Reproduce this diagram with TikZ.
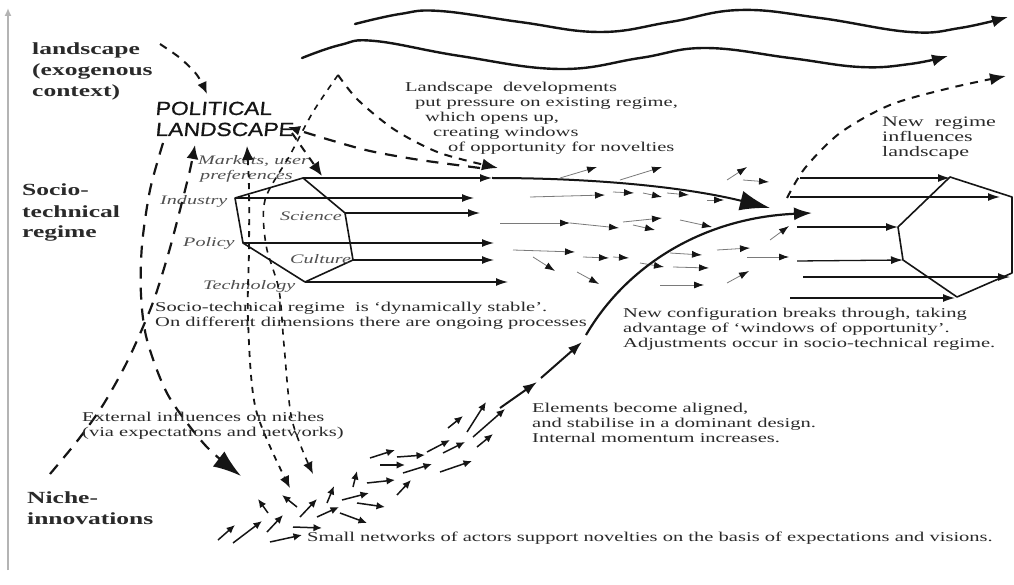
\documentclass[tikz,border=0pt]{standalone}
\usepackage{fontspec}
\setmainfont{Liberation Serif}
\newfontfamily\bodyf[FakeStretch=1.52]{Liberation Serif}
\newfontfamily\levf[FakeStretch=1.5]{Liberation Serif}
\newfontfamily\dimf[FakeStretch=1.55]{Liberation Serif}
\newfontfamily\handf[FakeSlant=0.1,FakeStretch=1.2,FakeBold=0.8]{Liberation Sans}
\usetikzlibrary{arrows.meta}
\definecolor{ink}{HTML}{151515}
\definecolor{txt}{HTML}{2A2A2A}
\definecolor{lbl}{HTML}{505050}
\definecolor{axisg}{HTML}{B4B4B4}
\definecolor{faint}{HTML}{7A7A7A}
\tikzset{
  axisline/.style={axisg, line width=1.6pt, -{Latex[length=8pt,width=7pt]}},
  wave/.style={ink, line width=2.4pt, line cap=round, -{Latex[length=16pt,width=12pt]}},
  hexedge/.style={ink, line width=1.6pt, line join=round},
  dimarrow/.style={ink, line width=1.3pt, -{Latex[length=12pt,width=8pt]}},
  fieldarrow/.style={faint, line width=0.8pt, -{Latex[length=10pt,width=7pt,color=ink]}},
  nichearrow/.style={ink, line width=1.5pt, -{Latex[length=8.5pt,width=7.5pt]}},
  chain/.style={ink, line width=2pt, -{Latex[length=14pt,width=10pt]}},
  longdash/.style={ink, line width=2.2pt, dash pattern=on 12pt off 9pt},
  middash/.style={ink, line width=2pt, dash pattern=on 8pt off 7pt},
  shortdash/.style={ink, line width=1.6pt, dash pattern=on 6pt off 6pt},
  levellabel/.style={font=\levf\bfseries\fontsize{17}{21}\selectfont, txt, align=left, inner sep=0pt, anchor=base west},
  bodytext/.style={font=\bodyf\fontsize{13.5}{15}\selectfont, txt, align=left, inner sep=0pt, anchor=base west},
  dimlabel/.style={font=\dimf\itshape\fontsize{13}{15}\selectfont, lbl, align=left, inner sep=0pt, anchor=base west},
  handlabel/.style={font=\handf\fontsize{19}{21}\selectfont, ink, align=left, inner sep=0pt, anchor=base west},
}
\begin{document}
\begin{tikzpicture}[x=1pt,y=-1pt]
\useasboundingbox (0,0) rectangle (1014,585);
\fill[white] (0,0) rectangle (1014,585);

% vertical axis
\coordinate (axb) at (8,570);
\coordinate (axt) at (8,8);
\draw[axisline] (axb) -- (axt);

% level labels (anchor = baseline of last line)
\node[levellabel] (land) at (32,97) {landscape\\(exogenous\\context)};
\node[levellabel] (regime) at (22,238) {Socio-\\technical\\regime};
\node[levellabel] (niche) at (27,524) {Niche-\\innovations};
\node[handlabel] (pol) at (155,136) {POLITICAL\\LANDSCAPE};

% landscape waves
\draw[wave] plot[smooth, tension=0.7] coordinates {(355,24) (400,14) (440,11) (520,22) (600,32) (670,22) (740,10) (820,18) (910,32) (960,28) (1008,17)};
\draw[wave] plot[smooth, tension=0.7] coordinates {(302,58) (340,45) (375,41) (460,56) (560,69) (640,58) (705,48) (790,58) (860,67) (910,64) (948,56)};

% new regime influences landscape
\draw[middash, -{Latex[length=16pt,width=12pt]}] plot[smooth] coordinates {(787,198) (805,168) (840,133) (890,105) (950,88) (1006,76)};

% left hexagon (existing regime)
\coordinate (h1) at (303,178);
\coordinate (h2) at (345,213);
\coordinate (h3) at (353,260);
\coordinate (h4) at (305,282);
\coordinate (h5) at (243,243);
\coordinate (h6) at (235,198);
\draw[hexedge] (h1) -- (h2) -- (h3) -- (h4) -- (h5) -- (h6) -- cycle;
\coordinate (t1) at (492,178);
\coordinate (t6) at (474,198);
\coordinate (t2) at (480,213);
\coordinate (t5) at (494,243);
\coordinate (t3) at (494,260);
\coordinate (t4) at (508,282);
\draw[dimarrow] (h1) -- (t1);
\draw[dimarrow] (h6) -- (t6);
\draw[dimarrow] (h2) -- (t2);
\draw[dimarrow] (h5) -- (t5);
\draw[dimarrow] (h3) -- (t3);
\draw[dimarrow] (h4) -- (t4);

% pressure curve into big arrowhead
\coordinate (press) at (770,208);
\draw[ink, line width=2pt, -{Latex[length=30pt,width=20pt]}] (t1) .. controls (600,178) and (690,188) .. (press);

% dimension labels
\node[dimlabel] (mkt) at (198,180) {Markets, user\\\hspace*{2pt}preferences};
\node[dimlabel] (ind) at (160,205) {Industry};
\node[dimlabel] (sci) at (280,221) {Science};
\node[dimlabel] (polc) at (183,247) {Policy};
\node[dimlabel] (cul) at (290,263) {Culture};
\node[dimlabel] (tec) at (203,289) {Technology};

% right hexagon (new regime)
\coordinate (r1) at (950,177);
\coordinate (r2) at (1012,197);
\coordinate (r3) at (1012,273);
\coordinate (r4) at (957,297);
\coordinate (r5) at (903,260);
\coordinate (r6) at (898,227);
\draw[hexedge] (r1) -- (r2) -- (r3) -- (r4) -- (r5) -- (r6) -- cycle;
\coordinate (s1) at (800,178);
\coordinate (s2) at (790,197);
\coordinate (s3) at (797,227);
\coordinate (s4) at (797,261);
\coordinate (s5) at (803,277);
\coordinate (s6) at (790,298);
\draw[dimarrow] (s1) -- (950,178);
\draw[dimarrow] (s2) -- (1000,197);
\draw[dimarrow] (s3) -- (r6);
\draw[dimarrow] (s4) -- (r5);
\draw[dimarrow] (s5) -- (1010,277);
\draw[dimarrow] (s6) -- (955,298);

% middle field of small arrows
\foreach \xa/\ya/\xb/\yb in {560/178/597/167, 620/180/662/167, 530/197/605/195, 613/192/634/193,
  643/193/662/197, 667/193/689/195, 707/200/724/200, 727/180/747/167, 743/180/769/182,
  500/223/570/223, 570/223/619/228, 623/222/662/218, 633/225/655/230, 680/220/712/227,
  513/250/575/252, 583/257/609/258, 613/257/629/258, 533/257/555/271, 577/272/599/284,
  670/253/702/255, 673/267/709/268, 660/285/704/285, 717/250/750/248, 727/283/749/271,
  747/257/789/257, 770/240/789/226, 640/263/664/267}
  \draw[fieldarrow] (\xa,\ya) -- (\xb,\yb);

% niche swarm of small arrows
\foreach \xa/\ya/\xb/\yb in {218/540/235/525, 233/543/262/521, 267/532/283/515, 270/542/302/535,
  293/527/322/528, 268/513/258/499, 297/507/282/495, 300/517/317/499, 317/517/339/507,
  327/503/334/486, 340/513/367/523, 342/500/369/493, 357/503/385/507, 353/487/357/471,
  367/483/395/480, 397/495/411/480, 370/458/395/450, 380/465/405/465, 397/457/425/455,
  403/473/432/464, 427/452/450/440, 443/453/465/442, 440/472/472/461, 448/428/463/416,
  467/432/486/402, 473/437/505/409, 477/447/493/434}
  \draw[nichearrow] (\xa,\ya) -- (\xb,\yb);

% main niche trajectory
\coordinate (c0) at (500,408);
\coordinate (c1) at (537,382);
\coordinate (c2) at (541,378);
\coordinate (c3) at (582,342);
\coordinate (c4) at (586,335);
\coordinate (brk) at (812,213);
\draw[chain] (c0) -- (c1);
\draw[chain] (c2) -- (c3);
\draw[ink, line width=2.2pt, -{Latex[length=18pt,width=13pt]}] (c4) .. controls (625,268) and (700,218) .. (brk);

% dashed influence lines
\coordinate (apex) at (338,75);
\draw[longdash, -{Latex[length=28pt,width=19pt]}] plot[smooth] coordinates {(163,143) (150,190) (142,245) (141,295) (147,340) (168,395) (205,445) (241,476)};
\draw[longdash, -{Latex[length=14pt,width=12pt]}] plot[smooth] coordinates {(50,474) (78,440) (103,405) (128,360) (152,305) (168,255) (180,210) (190,170) (195,145)};
\draw[shortdash, line width=1.8pt, {Latex[length=14pt,width=12pt]}-{Latex[length=12pt,width=10pt]}] plot[smooth] coordinates {(247,146) (249,190) (249,250) (248,320) (256,410) (290,488)};
\draw[shortdash, -{Latex[length=12pt,width=10pt]}] plot[smooth] coordinates {(apex) (313,112) (290,155) (265,200) (266,245) (279,290) (284,345) (292,420) (313,474)};
\draw[middash, -{Latex[length=16pt,width=12pt]}] plot[smooth] coordinates {(apex) (358,100) (395,130) (440,153) (498,168)};
\draw[longdash, -{Latex[length=12pt,width=10pt]}] plot[smooth] coordinates {(480,168) (420,160) (370,151) (330,140) (288,127)};
\draw[middash, -{Latex[length=14pt,width=12pt]}] (292,133) -- (322,176);
\draw[middash, -{Latex[length=12pt,width=10pt]}] plot[smooth] coordinates {(160,44) (180,58) (197,75) (207,94)};

% explanatory texts (anchor = baseline of last line)
\node[bodytext] (lsdev) at (405,152) {Landscape\ \ developments\\\hspace*{10pt}put pressure on existing regime,\\\hspace*{20pt}which opens up,\\\hspace*{28pt}creating windows\\\hspace*{43pt}of opportunity for novelties};
\node[bodytext, font=\bodyf\fontsize{14.5}{15}\selectfont] (newreg) at (882,157) {New\ \ regime\\influences\\landscape};
\node[bodytext] (stable) at (155,326) {Socio-technical regime\ \ is ‘dynamically stable’.\\On different dimensions there are ongoing processes};
\node[bodytext] (breaks) at (623,347) {New configuration breaks through, taking\\advantage of ‘windows of opportunity’.\\Adjustments occur in socio-technical regime.};
\node[bodytext] (aligned) at (532,442) {Elements become aligned,\\and stabilise in a dominant design.\\Internal momentum increases.};
\node[bodytext] (external) at (82,436) {External influences on niches\\(via expectations and networks)};
\node[bodytext] (small) at (307,541) {Small networks of actors support novelties on the basis of expectations and visions.};
\end{tikzpicture}
\end{document}
